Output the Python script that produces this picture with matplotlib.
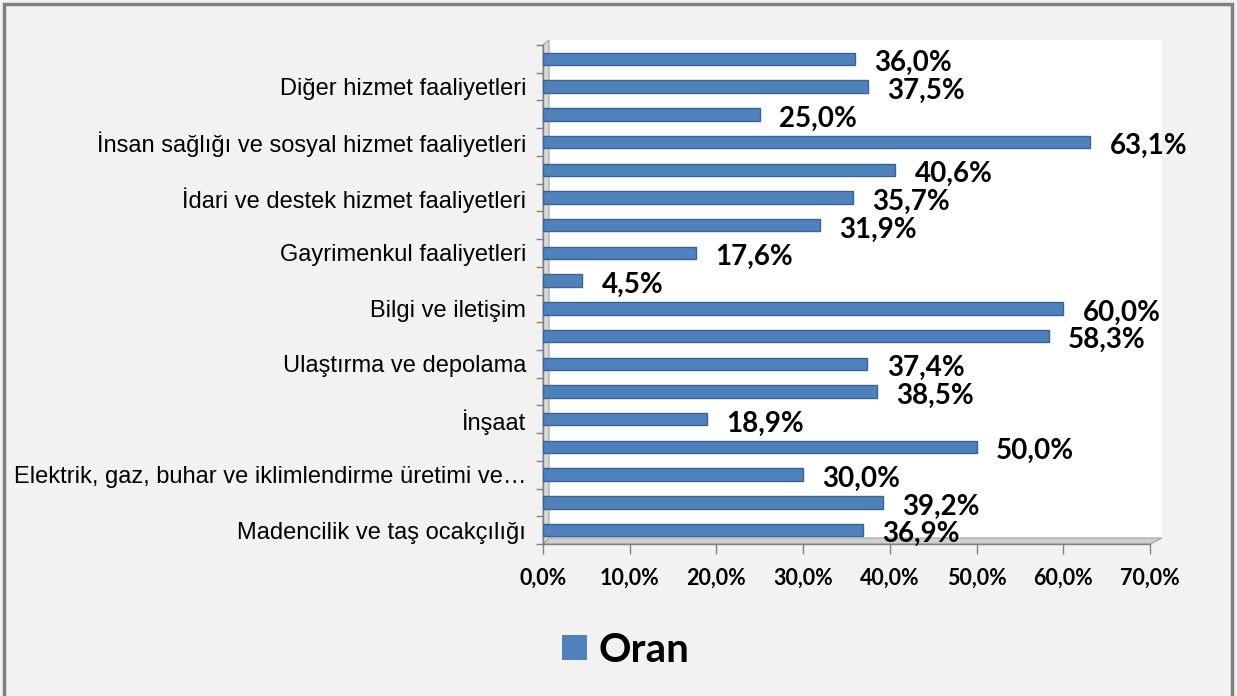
import matplotlib
matplotlib.use("Agg")
import matplotlib.pyplot as plt
from matplotlib.patches import Rectangle, Polygon
import numpy as np

# ---- data (bottom to top) ----
categories = [
    "Madencilik ve taş ocakçılığı",
    "İmalat",
    "Elektrik, gaz, buhar ve iklimlendirme üretimi ve dağıtımı",
    "Su temini; kanalizasyon, atık yönetimi ve iyileştirme faaliyetleri",
    "İnşaat",
    "Toptan ve perakende ticaret",
    "Ulaştırma ve depolama",
    "Konaklama ve yiyecek hizmeti faaliyetleri",
    "Bilgi ve iletişim",
    "Finans ve sigorta faaliyetleri",
    "Gayrimenkul faaliyetleri",
    "Mesleki, bilimsel ve teknik faaliyetler",
    "İdari ve destek hizmet faaliyetleri",
    "Eğitim",
    "İnsan sağlığı ve sosyal hizmet faaliyetleri",
    "Kültür, sanat, eğlence, dinlence ve spor",
    "Diğer hizmet faaliyetleri",
    "Toplam",
]
oran = [36.9, 39.2, 30.0, 50.0, 18.9, 38.5, 37.4, 58.3, 60.0, 4.5,
        17.6, 31.9, 35.7, 40.6, 63.1, 25.0, 37.5, 36.0]
shown_labels = [
    "Madencilik ve taş ocakçılığı",
    "Elektrik, gaz, buhar ve iklimlendirme üretimi ve…",
    "İnşaat",
    "Ulaştırma ve depolama",
    "Bilgi ve iletişim",
    "Gayrimenkul faaliyetleri",
    "İdari ve destek hizmet faaliyetleri",
    "İnsan sağlığı ve sosyal hizmet faaliyetleri",
    "Diğer hizmet faaliyetleri",
]
xticks = [0, 10, 20, 30, 40, 50, 60, 70]
series_name = "Oran"

W, H = 1237, 696
fig = plt.figure(figsize=(W / 100, H / 100), dpi=100)
fig.patch.set_facecolor("#f2f2f2")

# outer frame
fig.add_artist(Rectangle((4 / W, -0.01), (1232 - 4) / W, 1 - 4 / H + 0.01,
                         transform=fig.transFigure, fill=False,
                         edgecolor="#808080", linewidth=2.5))

left, right, top, bottom = 543, 1150, 45, 544
ax = fig.add_axes([left / W, 1 - bottom / H, (right - left) / W, (bottom - top) / H])
ax.set_facecolor("none")

# white back wall (slightly offset, 3D look)
fig.add_artist(Rectangle((549 / W, 1 - 538 / H), (1162 - 549) / W, (538 - 40) / H,
                         transform=fig.transFigure, facecolor="white",
                         edgecolor="none", zorder=-1))
# floor
fig.add_artist(Polygon([(543 / W, 1 - 544 / H), (1150 / W, 1 - 544 / H),
                        (1162 / W, 1 - 538 / H), (549 / W, 1 - 538 / H)],
                       closed=True, transform=fig.transFigure,
                       facecolor="#d0d0d0", edgecolor="#a0a0a0", linewidth=0.8, zorder=-1))
# left wall
fig.add_artist(Polygon([(543 / W, 1 - 544 / H), (549 / W, 1 - 538 / H),
                        (549 / W, 1 - 40 / H), (543 / W, 1 - 45 / H)],
                       closed=True, transform=fig.transFigure,
                       facecolor="#d9d9d9", edgecolor="#a0a0a0", linewidth=0.8, zorder=-1))

n = len(categories)
y = np.arange(n)
ax.barh(y, oran, height=0.45, color="#4f81bd", edgecolor="#3a6391",
        linewidth=1.0, zorder=3)

ax.set_xlim(0, 70)
ax.set_ylim(-0.5, n - 0.5)

for yi, v in zip(y, oran):
    ax.annotate(f"{v:.1f}%".replace(".", ","), xy=(v, yi), xytext=(14, -3),
                textcoords="offset points", ha="left", va="center",
                fontsize=20, fontweight="bold", family="Lato", color="black",
                zorder=4)

# y ticks: labels on every other category, tick marks at slot boundaries
ax.set_yticks(y[::2])
ax.set_yticklabels(shown_labels, fontsize=17, family="Liberation Sans")
ax.tick_params(axis="y", which="major", length=0, pad=12)
ax.set_yticks(np.arange(-0.5, n, 1.0), minor=True)
ax.tick_params(axis="y", which="minor", length=5, width=1, color="#808080",
               direction="out")

ax.set_xticks(xticks)
ax.set_xticklabels([f"{t:.1f}%".replace(".", ",") for t in xticks],
                   fontsize=15.5, fontweight="bold", family="Lato")
ax.tick_params(axis="x", length=7, width=1, color="#808080", direction="out", pad=10)

for s in ["top", "right"]:
    ax.spines[s].set_visible(False)
for s in ["left", "bottom"]:
    ax.spines[s].set_color("#808080")
    ax.spines[s].set_linewidth(1)

handle = Rectangle((0, 0), 1, 1, facecolor="#4f81bd", edgecolor="none")
fig.legend([handle], [series_name], loc="center", bbox_to_anchor=(626 / W, 1 - 650 / H),
           frameon=False, prop={"family": "Lato", "weight": "bold", "size": 29},
           handlelength=0.6, handleheight=0.6, handletextpad=0.3)

fig.savefig("out.png", dpi=100, facecolor=fig.get_facecolor())
